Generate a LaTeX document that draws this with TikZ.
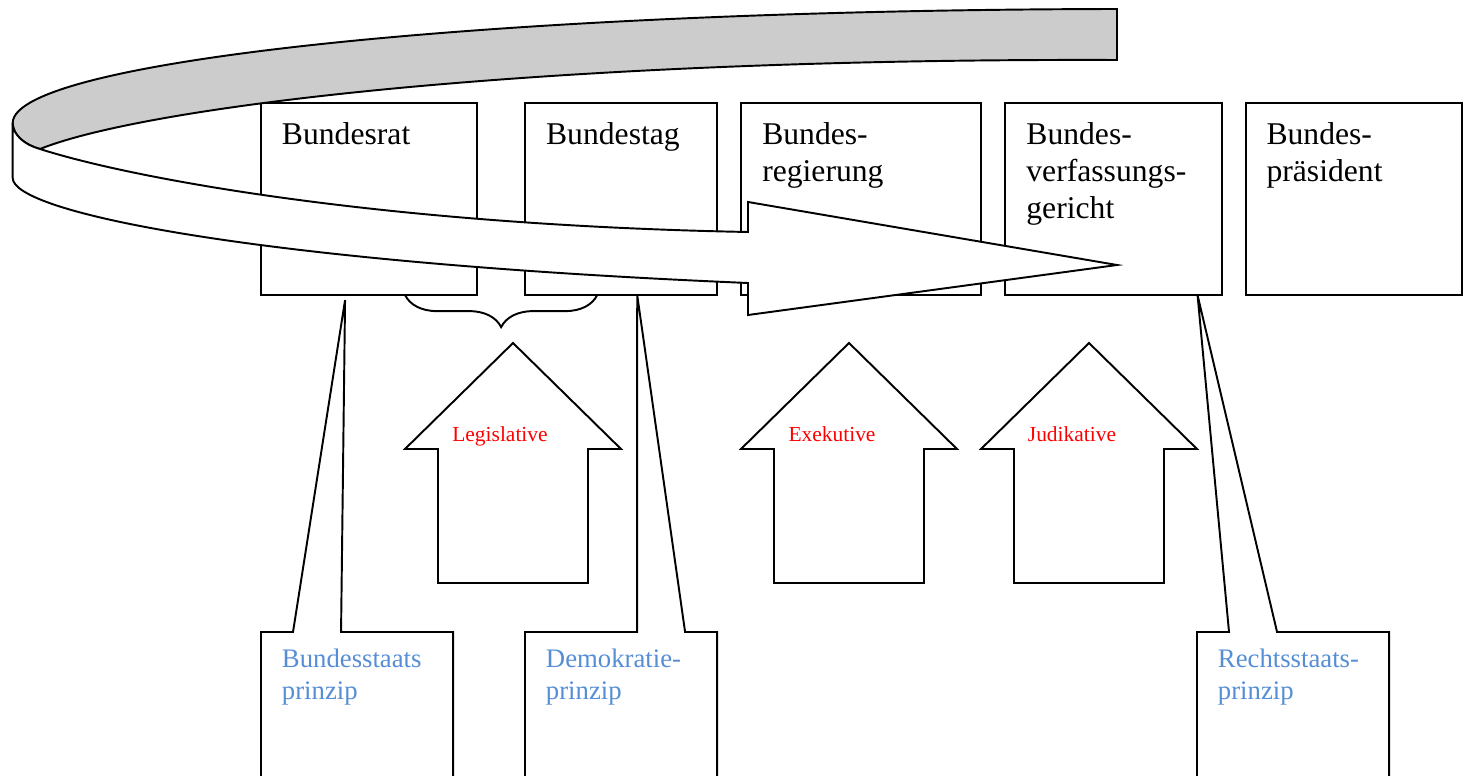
\documentclass[tikz,border=0pt]{standalone}
\usepackage{fontspec}
\setmainfont{Liberation Serif}
\usetikzlibrary{positioning,calc,decorations.pathreplacing}
\definecolor{principleblue}{RGB}{85,142,213}
\definecolor{bandgray}{RGB}{204,204,204}

\begin{document}
\begin{tikzpicture}[x=0.01cm, y=-0.01cm, line width=0.55pt,
    organ/.style={rectangle, draw, anchor=north west, inner sep=0pt, outer sep=0pt, minimum height=1.92cm},
    organtext/.style={anchor=base west, text width=1.9cm, align=left, inner sep=0pt, font=\fontsize{9}{10.4}\selectfont},
    principle/.style={rectangle, anchor=north west, inner sep=0pt, outer sep=0pt, minimum width=1.92cm, minimum height=1.7cm},
    principletext/.style={anchor=base west, text width=1.7cm, align=left, inner sep=0pt, text=principleblue, font=\fontsize{7.6}{9.1}\selectfont},
    power/.style={draw, fill=white},
    powertext/.style={anchor=base, inner sep=0pt, text=red, font=\fontsize{6.1}{7.3}\selectfont}]
    \useasboundingbox (0,0) rectangle (1466,776);

    % Verfassungsorgane
    \node[organ, minimum width=2.16cm] (rat) at (261,103) {};
    \node[organ, minimum width=1.92cm, right=0.48cm of rat] (tag) {};
    \node[organ, minimum width=2.40cm, right=0.24cm of tag] (reg) {};
    \node[organ, minimum width=2.16cm, right=0.24cm of reg] (bvg) {};
    \node[organ, minimum width=2.16cm, right=0.24cm of bvg] (bp) {};

    \node[organtext] (ratT) at ([shift={(20,42)}]rat.north west) {Bundesrat};
    \node[organtext] (tagT) at ([shift={(20,42)}]tag.north west) {Bundestag};
    \node[organtext] (regT) at ([shift={(20,42)}]reg.north west) {Bundes-\\regierung};
    \node[organtext] (bvgT) at ([shift={(20,42)}]bvg.north west) {Bundes-\\verfassungs-\\gericht};
    \node[organtext] (bpT) at ([shift={(20,42)}]bp.north west) {Bundes-\\pr\"asident};

    % Kreislauf-Pfeil
    \draw[fill=bandgray] (1117,9) .. controls (500,10) and (12.7,60) .. (12.7,123)
        .. controls (12.7,135) and (25,145) .. (40,149)
        .. controls (150,105) and (550,58) .. (1117,60) -- cycle;
    \draw[fill=white] (12.7,123) -- (12.7,178) .. controls (12.7,212) and (250,262) .. (748,283)
        -- (748,315) -- (1117,265) -- (748,202) -- (748,232)
        .. controls (380,225) and (130,178) .. (40,149)
        .. controls (25,145) and (12.7,135) .. (12.7,123) -- cycle;

    % Klammer unter Bundesrat und Bundestag
    \draw[decorate, decoration={brace, mirror, amplitude=0.32cm}]
        ([xshift=-0.72cm]rat.south east) -- ([xshift=0.72cm]tag.south west);

    % Gewalten
    \foreach \ax/\tx/\nm/\txt in {513/500/leg/Legislative, 849/832/exe/Exekutive, 1089/1072/jud/Judikative} {
        \draw[power] (\ax,343) -- (\ax+108,449) -- (\ax+75,449) -- (\ax+75,583)
            -- (\ax-75,583) -- (\ax-75,449) -- (\ax-108,449) -- cycle;
        \node[powertext] (\nm) at (\tx,442) {\txt};
    }

    % Prinzipien
    \node[principle] (bsp) at (261,632) {};
    \node[principle] (dp) at (525,632) {};
    \node[principle] (rp) at (1197,632) {};
    \node[principletext] (bspT) at ([shift={(20,35)}]bsp.north west) {Bundesstaats\\prinzip};
    \node[principletext] (dpT) at ([shift={(20,35)}]dp.north west) {Demokratie-\\prinzip};
    \node[principletext] (rpT) at ([shift={(20,35)}]rp.north west) {Rechtsstaats-\\prinzip};

    \draw (bsp.south west) |- ([xshift=0.32cm]bsp.north west) -- ([shift={(-24,5)}]rat.south)
        -- ([xshift=0.80cm]bsp.north west) -| (bsp.south east);
    \draw (dp.south west) |- ([xshift=1.12cm]dp.north west) -- ([xshift=1.12cm]tag.south west)
        -- ([xshift=1.60cm]dp.north west) -| (dp.south east);
    \draw (rp.south west) |- ([xshift=0.32cm]rp.north west) -- ([xshift=-0.24cm]bvg.south east)
        -- ([xshift=0.80cm]rp.north west) -| (rp.south east);
\end{tikzpicture}
\end{document}
